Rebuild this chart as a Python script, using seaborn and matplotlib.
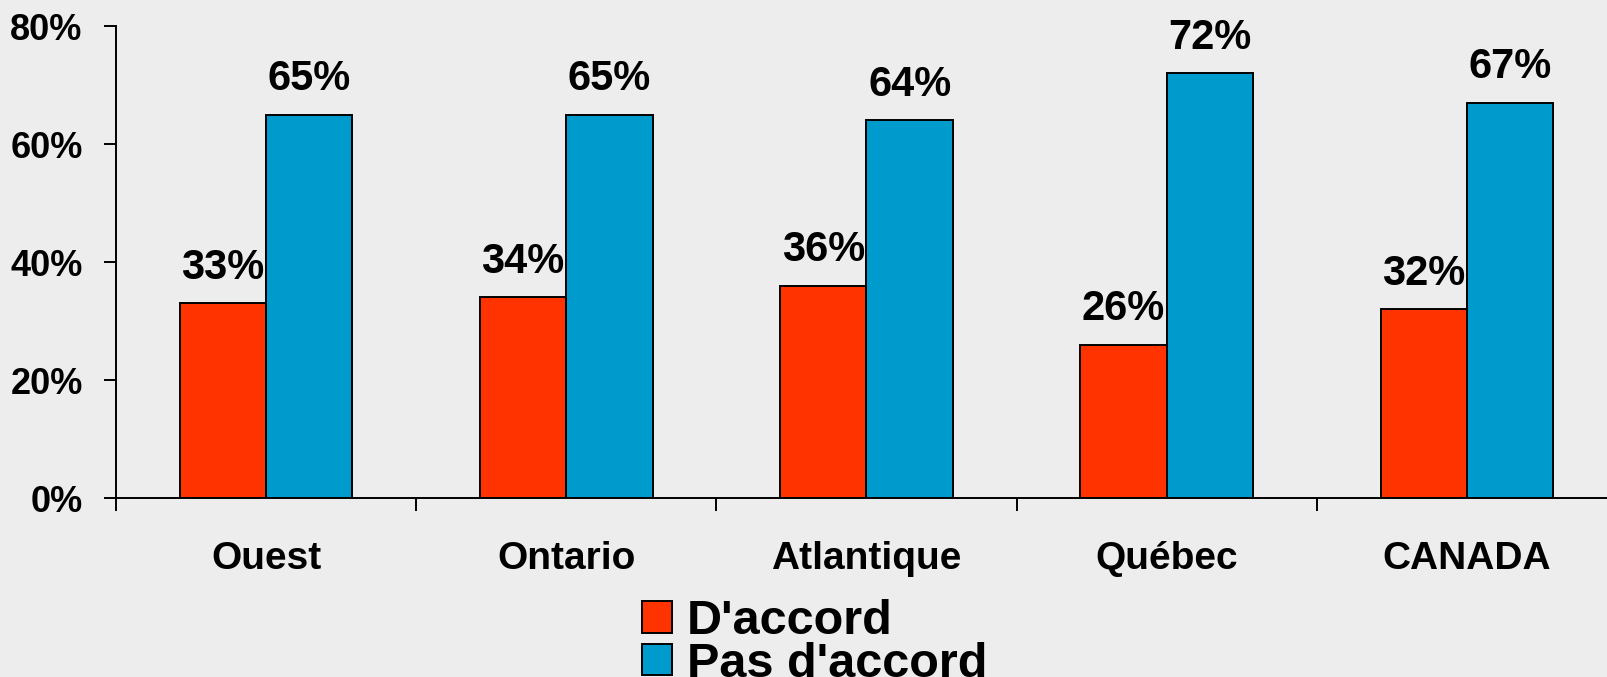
import pandas as pd
import matplotlib.pyplot as plt
import seaborn as sns
from matplotlib.ticker import FixedLocator, NullFormatter

# données du graphique
regions = ["Ouest", "Ontario", "Atlantique", "Québec", "CANADA"]
daccord = [33, 34, 36, 26, 32]
pas_daccord = [65, 65, 64, 72, 67]
series = ["D'accord", "Pas d'accord"]
couleurs = ["#FF3300", "#009BCD"]

df = pd.DataFrame({
    "region": regions * 2,
    "reponse": [series[0]] * len(regions) + [series[1]] * len(regions),
    "pct": daccord + pas_daccord,
})

sns.set_style("white")
plt.rcParams["font.family"] = ["Liberation Sans", "DejaVu Sans"]
plt.rcParams["font.weight"] = "bold"
plt.rcParams["text.color"] = "black"
plt.rcParams["xtick.color"] = "black"
plt.rcParams["ytick.color"] = "black"

fond = "#EDEDED"
fig = plt.figure(figsize=(16.07, 6.77), dpi=100, facecolor=fond)
ax = fig.add_axes([116 / 1607, 1 - 498 / 677, 1501 / 1607, 472 / 677])
ax.set_facecolor(fond)

sns.barplot(data=df, x="region", y="pct", hue="reponse", palette=couleurs,
            saturation=1, width=0.575, gap=0, edgecolor="black", linewidth=1.4, ax=ax)

for cont in ax.containers:
    ax.bar_label(cont, labels=[f"{v:.0f}%" for v in cont.datavalues],
                 padding=11, fontsize=30, fontweight="bold", color="black")

ax.set_ylim(0, 80)
ax.set_xlim(-0.5, len(regions) - 0.5)
ax.set_yticks([0, 20, 40, 60, 80])
ax.set_yticklabels([f"{t}%" for t in [0, 20, 40, 60, 80]], fontsize=26, fontweight="bold")

# ticks entre les groupes, étiquettes au centre
ax.xaxis.set_major_locator(FixedLocator([i - 0.5 for i in range(len(regions) + 1)]))
ax.xaxis.set_major_formatter(NullFormatter())
ax.xaxis.set_minor_locator(FixedLocator(list(range(len(regions)))))
ax.set_xticklabels(regions, minor=True, fontsize=28, fontweight="bold")
ax.tick_params(axis="x", which="major", bottom=True, direction="out", length=9, width=1.4, color="black")
ax.tick_params(axis="x", which="minor", bottom=True, length=0, pad=31)
ax.tick_params(axis="y", direction="out", length=9, width=1.4, color="black", pad=15, left=True)
ax.set_xlabel("")
ax.set_ylabel("")

for s in ["top", "right"]:
    ax.spines[s].set_visible(False)
for s in ["left", "bottom"]:
    ax.spines[s].set_color("black")
    ax.spines[s].set_linewidth(1.4)

handles, labels = ax.get_legend_handles_labels()
ax.get_legend().remove()
fig.legend(handles, labels, loc="upper left", bbox_to_anchor=(642 / 1607, 1 - 599 / 677),
           frameon=False, prop={"weight": "bold", "size": 35},
           handlelength=0.62, handleheight=0.62, handletextpad=0.3,
           labelspacing=-0.05, borderpad=0, borderaxespad=0)

fig.savefig("out.png", dpi=100, facecolor=fond)
